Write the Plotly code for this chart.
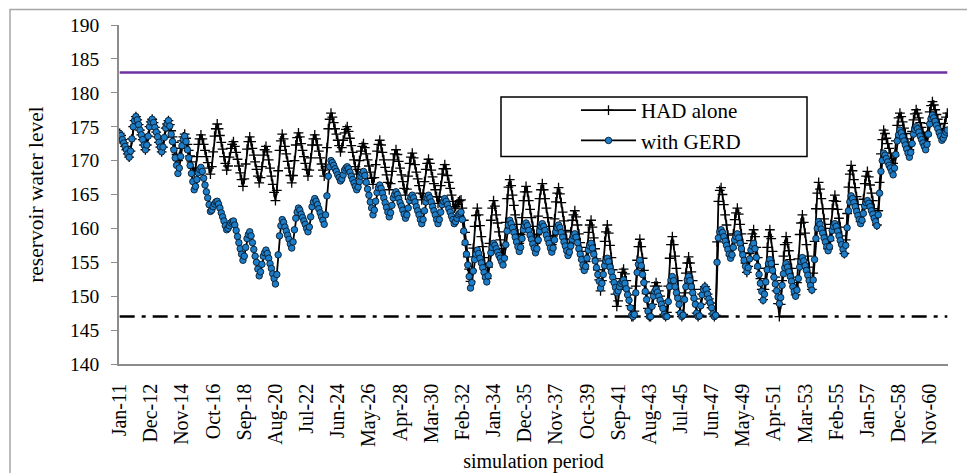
import plotly.graph_objects as go

# ---------------- data ----------------
MONTH_NAMES = ["Jan", "Feb", "Mar", "Apr", "May", "Jun",
               "Jul", "Aug", "Sep", "Oct", "Nov", "Dec"]
FIRST_YEAR, LAST_YEAR = 2011, 2061
PERIODS = [f"{m}-{y % 100:02d}" for y in range(FIRST_YEAR, LAST_YEAR + 1) for m in MONTH_NAMES]

TICK_LABELS = ["Jan-11", "Dec-12", "Nov-14", "Oct-16", "Sep-18", "Aug-20", "Jul-22",
               "Jun-24", "May-26", "Apr-28", "Mar-30", "Feb-32", "Jan-34", "Dec-35",
               "Nov-37", "Oct-39", "Sep-41", "Aug-43", "Jul-45", "Jun-47", "May-49",
               "Apr-51", "Mar-53", "Feb-55", "Jan-57", "Dec-58", "Nov-60"]

MAX_LEVEL = 183
MIN_LEVEL = 147

# monthly reservoir level (m), one row per year, Jan..Dec
HAD_ALONE = [
    174.0, 173.7, 173.1, 172.6, 172.1, 171.6, 171.0, 170.5, 171.4, 173.2, 175.0, 175.9,  # 2011
    176.5, 176.0, 175.3, 174.5, 173.8, 173.1, 172.3, 171.6, 172.3, 173.6, 175.0, 175.7,  # 2012
    176.1, 175.6, 174.9, 174.2, 173.5, 172.7, 172.0, 171.3, 172.0, 173.4, 174.8, 175.4,  # 2013
    175.9, 175.3, 174.4, 173.5, 172.7, 171.8, 170.9, 170.0, 170.6, 171.8, 172.9, 173.5,  # 2014
    173.9, 173.3, 172.4, 171.5, 170.7, 169.8, 168.9, 168.0, 168.9, 170.6, 172.4, 173.2,  # 2015
    173.8, 173.2, 172.4, 171.5, 170.6, 169.7, 168.9, 168.0, 169.1, 171.3, 173.6, 174.7,  # 2016
    175.4, 174.7, 173.7, 172.7, 171.7, 170.6, 169.6, 168.6, 169.2, 170.5, 171.8, 172.4,  # 2017
    172.8, 172.1, 171.2, 170.2, 169.2, 168.2, 167.2, 166.2, 167.3, 169.5, 171.7, 172.8,  # 2018
    173.5, 172.8, 171.8, 170.8, 169.8, 168.7, 167.7, 166.7, 167.5, 169.1, 170.8, 171.6,  # 2019
    172.1, 171.3, 170.1, 168.9, 167.7, 166.5, 165.3, 164.1, 165.6, 168.5, 171.5, 172.9,  # 2020
    173.9, 173.2, 172.1, 171.0, 169.9, 168.9, 167.8, 166.7, 167.8, 170.0, 172.3, 173.4,  # 2021
    174.1, 173.5, 172.5, 171.5, 170.6, 169.6, 168.7, 167.7, 168.6, 170.4, 172.3, 173.2,  # 2022
    173.8, 173.2, 172.3, 171.4, 170.4, 169.5, 168.6, 167.7, 169.1, 171.9, 174.7, 176.1,  # 2023
    177.0, 176.4, 175.6, 174.7, 173.9, 173.0, 172.2, 171.3, 171.9, 173.0, 174.1, 174.6,  # 2024
    175.0, 174.3, 173.3, 172.2, 171.2, 170.1, 169.1, 168.0, 168.7, 170.0, 171.4, 172.1,  # 2025
    172.5, 171.9, 171.0, 170.1, 169.2, 168.3, 167.4, 166.5, 167.5, 169.4, 171.4, 172.4,  # 2026
    173.0, 172.3, 171.2, 170.1, 169.0, 167.9, 166.8, 165.7, 166.6, 168.4, 170.1, 171.0,  # 2027
    171.6, 170.9, 169.9, 168.9, 167.9, 166.9, 165.9, 164.9, 165.8, 167.7, 169.6, 170.5,  # 2028
    171.1, 170.4, 169.4, 168.3, 167.3, 166.3, 165.2, 164.2, 165.1, 166.9, 168.7, 169.6,  # 2029
    170.2, 169.6, 168.6, 167.6, 166.6, 165.7, 164.7, 163.7, 164.6, 166.3, 168.0, 168.8,  # 2030
    169.4, 168.8, 167.8, 166.8, 165.9, 164.9, 164.0, 163.0, 163.2, 163.5, 163.9, 164.1,  # 2031
    164.2, 163.0, 161.2, 159.4, 157.6, 155.8, 154.0, 152.2, 153.8, 157.1, 160.3, 161.9,  # 2032
    163.0, 162.0, 160.4, 158.8, 157.3, 155.7, 154.2, 152.6, 154.3, 157.8, 161.2, 163.0,  # 2033
    164.1, 163.3, 162.0, 160.8, 159.5, 158.3, 157.0, 155.8, 157.5, 160.9, 164.4, 166.1,  # 2034
    167.2, 166.3, 164.9, 163.4, 162.0, 160.6, 159.2, 157.8, 159.1, 161.6, 164.1, 165.4,  # 2035
    166.2, 165.4, 164.1, 162.8, 161.6, 160.3, 159.1, 157.8, 159.1, 161.8, 164.4, 165.7,  # 2036
    166.6, 165.7, 164.4, 163.0, 161.6, 160.3, 158.9, 157.6, 158.9, 161.4, 163.9, 165.2,  # 2037
    166.0, 165.1, 163.8, 162.4, 161.1, 159.7, 158.4, 157.0, 157.8, 159.5, 161.2, 162.0,  # 2038
    162.6, 161.7, 160.5, 159.2, 157.9, 156.6, 155.3, 154.0, 155.1, 157.2, 159.4, 160.5,  # 2039
    161.2, 160.2, 158.6, 157.0, 155.5, 153.9, 152.4, 150.8, 152.3, 155.2, 158.1, 159.5,  # 2040
    160.5, 159.3, 157.5, 155.7, 153.9, 152.1, 150.3, 148.5, 149.3, 151.0, 152.6, 153.5,  # 2041
    154.0, 153.3, 152.3, 151.2, 150.2, 148.6, 147.0, 147.0, 147.8, 151.5, 155.3, 157.3,  # 2042
    158.4, 157.3, 155.6, 153.8, 152.1, 150.4, 148.2, 147.0, 147.0, 148.8, 150.6, 151.5,  # 2043
    152.0, 151.5, 150.8, 150.0, 149.3, 148.5, 147.3, 147.0, 147.6, 151.5, 155.6, 157.6,  # 2044
    158.8, 157.6, 155.9, 154.1, 152.3, 150.0, 147.6, 147.0, 147.3, 150.5, 153.4, 154.9,  # 2045
    155.8, 154.9, 153.6, 152.3, 151.0, 149.6, 147.5, 147.0, 147.2, 148.8, 150.3, 151.0,  # 2046
    151.4, 151.0, 150.3, 149.6, 149.0, 148.3, 147.4, 147.0, 147.2, 158.0, 164.0, 165.6,  # 2047
    166.0, 165.0, 163.5, 162.0, 160.5, 159.0, 157.5, 156.0, 157.1, 159.2, 161.3, 162.3,  # 2048
    163.0, 162.1, 160.6, 159.2, 157.8, 156.4, 154.9, 153.5, 154.4, 156.3, 158.2, 159.2,  # 2049
    159.8, 158.8, 157.2, 155.7, 154.1, 152.6, 151.0, 149.5, 151.0, 154.1, 157.2, 158.8,  # 2050
    159.8, 158.5, 156.6, 154.7, 152.8, 150.8, 148.9, 147.0, 148.8, 152.3, 155.9, 157.6,  # 2051
    158.8, 157.9, 156.7, 155.4, 154.1, 152.8, 151.5, 150.2, 152.0, 155.5, 159.1, 160.8,  # 2052
    162.0, 160.9, 159.3, 157.6, 155.9, 154.3, 152.7, 151.0, 153.4, 158.1, 162.9, 165.2,  # 2053
    166.8, 165.8, 164.4, 162.9, 161.4, 160.0, 158.5, 157.0, 158.2, 160.6, 162.9, 164.1,  # 2054
    164.9, 164.0, 162.8, 161.5, 160.2, 158.9, 157.6, 156.3, 158.3, 162.2, 166.1, 168.0,  # 2055
    169.3, 168.5, 167.2, 166.0, 164.7, 163.5, 162.2, 161.0, 162.1, 164.3, 166.6, 167.7,  # 2056
    168.4, 167.6, 166.4, 165.2, 164.1, 162.9, 161.7, 160.5, 162.6, 166.8, 171.0, 173.1,  # 2057
    174.5, 174.0, 173.3, 172.5, 171.8, 171.1, 170.3, 169.6, 170.7, 172.9, 175.2, 176.3,  # 2058
    177.0, 176.5, 175.7, 174.8, 174.0, 173.2, 172.4, 171.6, 172.5, 174.3, 176.0, 176.9,  # 2059
    177.5, 177.0, 176.3, 175.6, 174.9, 174.2, 173.5, 172.8, 173.7, 175.5, 177.2, 178.1,  # 2060
    178.7, 178.2, 177.5, 176.8, 176.1, 175.4, 174.7, 174.0, 174.5, 175.5, 176.4, 177.0,  # 2061
]

WITH_GERD = [
    174.0, 173.7, 173.1, 172.6, 172.1, 171.6, 171.0, 170.5, 171.4, 173.2, 175.0, 175.9,  # 2011
    176.5, 176.0, 175.3, 174.5, 173.8, 173.1, 172.3, 171.6, 172.3, 173.6, 175.0, 175.7,  # 2012
    176.1, 175.6, 174.9, 174.2, 173.5, 172.7, 172.0, 171.3, 172.0, 173.4, 174.8, 175.4,  # 2013
    175.9, 175.1, 173.9, 172.8, 171.6, 170.4, 169.3, 168.1, 168.9, 170.6, 172.2, 173.1,  # 2014
    173.6, 172.8, 171.6, 170.4, 169.3, 168.1, 166.9, 165.7, 166.2, 167.2, 168.2, 168.7,  # 2015
    169.0, 168.4, 167.4, 166.4, 165.4, 164.5, 163.5, 162.5, 162.7, 163.2, 163.6, 163.9,  # 2016
    164.0, 163.6, 163.0, 162.3, 161.7, 161.1, 160.4, 159.8, 160.0, 160.4, 160.8, 161.0,  # 2017
    161.1, 160.5, 159.7, 158.8, 157.9, 157.0, 156.2, 155.3, 155.9, 157.2, 158.5, 159.1,  # 2018
    159.5, 158.9, 157.9, 156.9, 155.9, 155.0, 154.0, 153.0, 153.6, 154.7, 155.9, 156.4,  # 2019
    156.8, 156.3, 155.6, 154.8, 154.1, 153.3, 152.6, 151.8, 153.2, 156.1, 158.9, 160.4,  # 2020
    161.3, 160.9, 160.2, 159.6, 159.0, 158.4, 157.7, 157.1, 158.0, 159.8, 161.5, 162.4,  # 2021
    163.0, 162.7, 162.1, 161.6, 161.1, 160.6, 160.0, 159.5, 160.2, 161.7, 163.2, 163.9,  # 2022
    164.4, 164.0, 163.5, 162.9, 162.3, 161.7, 161.2, 160.6, 162.0, 164.8, 167.7, 169.1,  # 2023
    170.0, 169.7, 169.3, 168.8, 168.4, 167.9, 167.5, 167.0, 167.3, 167.9, 168.6, 168.9,  # 2024
    169.1, 168.8, 168.3, 167.7, 167.2, 166.7, 166.2, 165.7, 166.1, 166.9, 167.7, 168.1,  # 2025
    168.4, 167.8, 166.8, 165.8, 164.9, 163.9, 163.0, 162.0, 162.7, 164.0, 165.3, 166.0,  # 2026
    166.4, 165.9, 165.2, 164.5, 163.8, 163.1, 162.4, 161.7, 162.3, 163.4, 164.5, 165.0,  # 2027
    165.4, 165.0, 164.4, 163.8, 163.3, 162.7, 162.1, 161.5, 162.0, 163.0, 164.1, 164.6,  # 2028
    164.9, 164.5, 163.9, 163.2, 162.6, 162.0, 161.3, 160.7, 161.3, 162.6, 163.9, 164.5,  # 2029
    164.9, 164.5, 163.9, 163.2, 162.6, 162.0, 161.3, 160.7, 161.3, 162.4, 163.5, 164.0,  # 2030
    164.4, 164.0, 163.5, 162.9, 162.4, 161.8, 161.3, 160.7, 161.0, 161.5, 162.0, 162.2,  # 2031
    162.4, 161.3, 159.6, 157.9, 156.2, 154.6, 152.9, 151.2, 152.0, 153.7, 155.4, 156.2,  # 2032
    156.8, 156.3, 155.6, 154.9, 154.2, 153.5, 152.8, 152.1, 153.0, 154.7, 156.4, 157.2,  # 2033
    157.8, 157.5, 157.0, 156.5, 156.0, 155.6, 155.1, 154.6, 155.6, 157.6, 159.6, 160.5,  # 2034
    161.2, 160.7, 160.1, 159.4, 158.7, 158.0, 157.3, 156.6, 157.2, 158.5, 159.8, 160.4,  # 2035
    160.8, 160.4, 159.7, 159.0, 158.4, 157.7, 157.1, 156.4, 157.0, 158.3, 159.6, 160.3,  # 2036
    160.7, 160.3, 159.7, 159.0, 158.4, 157.8, 157.1, 156.5, 157.1, 158.3, 159.5, 160.1,  # 2037
    160.5, 160.1, 159.4, 158.7, 158.0, 157.4, 156.7, 156.0, 156.5, 157.4, 158.4, 158.9,  # 2038
    159.2, 158.7, 157.9, 157.0, 156.2, 155.4, 154.6, 153.8, 154.4, 155.6, 156.8, 157.4,  # 2039
    157.8, 157.1, 156.2, 155.2, 154.2, 153.2, 152.2, 151.2, 151.9, 153.2, 154.5, 155.2,  # 2040
    155.6, 155.1, 154.3, 153.6, 152.8, 152.0, 151.3, 150.5, 150.8, 151.4, 151.9, 152.2,  # 2041
    152.4, 151.9, 151.1, 150.2, 149.4, 148.3, 147.2, 147.0, 147.3, 150.5, 153.5, 154.7,  # 2042
    155.3, 154.5, 153.2, 152.0, 150.7, 149.5, 147.8, 147.0, 147.0, 148.5, 150.0, 150.7,  # 2043
    151.0, 150.6, 150.0, 149.4, 148.8, 148.2, 147.3, 147.0, 147.0, 149.2, 151.4, 152.4,  # 2044
    152.9, 152.3, 151.4, 150.5, 149.7, 148.8, 147.5, 147.0, 147.2, 149.5, 151.4, 152.4,  # 2045
    152.9, 152.3, 151.4, 150.5, 149.7, 148.8, 147.5, 147.0, 147.1, 148.6, 150.2, 151.0,  # 2046
    151.4, 151.0, 150.3, 149.6, 149.0, 148.3, 147.4, 147.0, 147.2, 155.0, 158.6, 159.5,  # 2047
    159.8, 159.4, 158.8, 158.1, 157.5, 156.9, 156.2, 155.6, 156.1, 157.2, 158.3, 158.8,  # 2048
    159.2, 158.6, 157.8, 157.0, 156.1, 155.3, 154.4, 153.6, 154.2, 155.5, 156.8, 157.4,  # 2049
    157.8, 157.0, 155.7, 154.4, 153.2, 151.9, 150.7, 149.4, 150.3, 152.1, 153.9, 154.8,  # 2050
    155.4, 154.8, 153.8, 152.8, 151.8, 150.8, 149.9, 148.9, 149.8, 151.6, 153.3, 154.2,  # 2051
    154.8, 154.3, 153.6, 152.9, 152.2, 151.4, 150.7, 150.0, 150.9, 152.6, 154.3, 155.1,  # 2052
    155.7, 155.2, 154.5, 153.8, 153.1, 152.3, 151.6, 150.9, 152.4, 155.4, 158.5, 160.0,  # 2053
    161.0, 160.6, 159.9, 159.3, 158.6, 158.0, 157.3, 156.7, 157.3, 158.5, 159.7, 160.3,  # 2054
    160.7, 160.3, 159.6, 158.9, 158.2, 157.6, 156.9, 156.2, 157.5, 160.1, 162.6, 163.9,  # 2055
    164.8, 164.4, 163.8, 163.2, 162.5, 161.9, 161.3, 160.7, 161.2, 162.2, 163.3, 163.8,  # 2056
    164.1, 163.7, 163.2, 162.6, 162.1, 161.5, 161.0, 160.4, 162.0, 165.2, 168.4, 170.0,  # 2057
    171.1, 170.8, 170.3, 169.8, 169.3, 168.9, 168.4, 167.9, 168.9, 170.9, 172.9, 173.8,  # 2058
    174.5, 174.1, 173.5, 172.9, 172.3, 171.7, 171.1, 170.5, 171.2, 172.5, 173.9, 174.6,  # 2059
    175.0, 174.7, 174.2, 173.6, 173.1, 172.6, 172.1, 171.6, 172.4, 173.9, 175.4, 176.2,  # 2060
    176.7, 176.3, 175.8, 175.2, 174.7, 174.1, 173.6, 173.0, 173.3, 173.8, 174.2, 174.5,  # 2061
]

# ---------------- figure ----------------
SERIF = "Liberation Serif, Times New Roman, serif"
PAGE_OFFSET = 8                      # default body margin of the html page
W, H = 975 - PAGE_OFFSET, 473 - PAGE_OFFSET
ML, MR, MT, MB = 119 - PAGE_OFFSET, 27, 25 - PAGE_OFFSET, 109
PW, PH = W - ML - MR, H - MT - MB


def px_x(x_page):
    return (x_page - PAGE_OFFSET - ML) / PW


def px_y(y_page):
    return (H - MB - (y_page - PAGE_OFFSET)) / PH


fig = go.Figure()

fig.add_trace(go.Scatter(
    x=[PERIODS[0], PERIODS[-1]], y=[MAX_LEVEL, MAX_LEVEL], mode="lines",
    line=dict(color="#7030A0", width=2.6), showlegend=False, hoverinfo="skip"))
fig.add_trace(go.Scatter(
    x=[PERIODS[0], PERIODS[-1]], y=[MIN_LEVEL, MIN_LEVEL], mode="lines",
    line=dict(color="black", width=2.6, dash="15px,7px,4px,7px"),
    showlegend=False, hoverinfo="skip"))

fig.add_trace(go.Scatter(
    x=PERIODS, y=HAD_ALONE, name="HAD alone", mode="lines+markers",
    line=dict(color="black", width=1.8),
    marker=dict(symbol="cross-thin", size=7, color="black",
                line=dict(color="black", width=1.3))))
fig.add_trace(go.Scatter(
    x=PERIODS, y=WITH_GERD, name="with GERD", mode="lines+markers",
    line=dict(color="black", width=1.8),
    marker=dict(symbol="circle", size=6.5, color="#1c7dc8",
                line=dict(color="#0a1a2a", width=0.9))))

fig.update_layout(
    width=W, height=H,
    margin=dict(l=ML, r=MR, t=MT, b=MB, autoexpand=False),
    paper_bgcolor="white", plot_bgcolor="white",
    font=dict(family=SERIF, color="black", size=19),
    showlegend=True,
    legend=dict(x=px_x(576), y=px_y(90), xanchor="left", yanchor="top",
                bgcolor="rgba(0,0,0,0)", borderwidth=0,
                font=dict(family=SERIF, size=21, color="black"),
                itemwidth=55, tracegroupgap=0),
    shapes=[
        dict(type="rect", xref="paper", yref="paper",
             x0=px_x(10), x1=px_x(1000), y0=px_y(520), y1=px_y(9.5),
             line=dict(color="#a6a6a6", width=1.5), fillcolor="rgba(0,0,0,0)", layer="above"),
        dict(type="rect", xref="paper", yref="paper",
             x0=px_x(501), x1=px_x(807), y0=px_y(156.5), y1=px_y(97),
             line=dict(color="black", width=1.5), fillcolor="rgba(0,0,0,0)"),
    ],
)

fig.update_xaxes(
    automargin=False,
    type="category", categoryorder="array", categoryarray=PERIODS,
    range=[-0.5, len(PERIODS) - 0.5],
    tickmode="array", tickvals=TICK_LABELS, ticktext=TICK_LABELS,
    tickangle=-90, ticks="", ticklabelstandoff=10,
    tickfont=dict(family=SERIF, size=20, color="black"),
    showline=True, linecolor="#8c8c8c", linewidth=1.5,
    showgrid=False, zeroline=False,
    title=dict(text="simulation period", font=dict(family=SERIF, size=20, color="black"),
               standoff=10),
)
fig.update_yaxes(
    automargin=False,
    range=[140, 190], tick0=140, dtick=5,
    ticks="outside", ticklen=6, tickcolor="#8c8c8c", tickwidth=1.2,
    ticklabelstandoff=8,
    tickfont=dict(family=SERIF, size=19.5, color="black"),
    showline=True, linecolor="#8c8c8c", linewidth=1.5,
    showgrid=False, zeroline=False,
    title=dict(text="reservoir water level", font=dict(family=SERIF, size=21.5, color="black"),
               standoff=21),
)

fig.write_html("out.html")
